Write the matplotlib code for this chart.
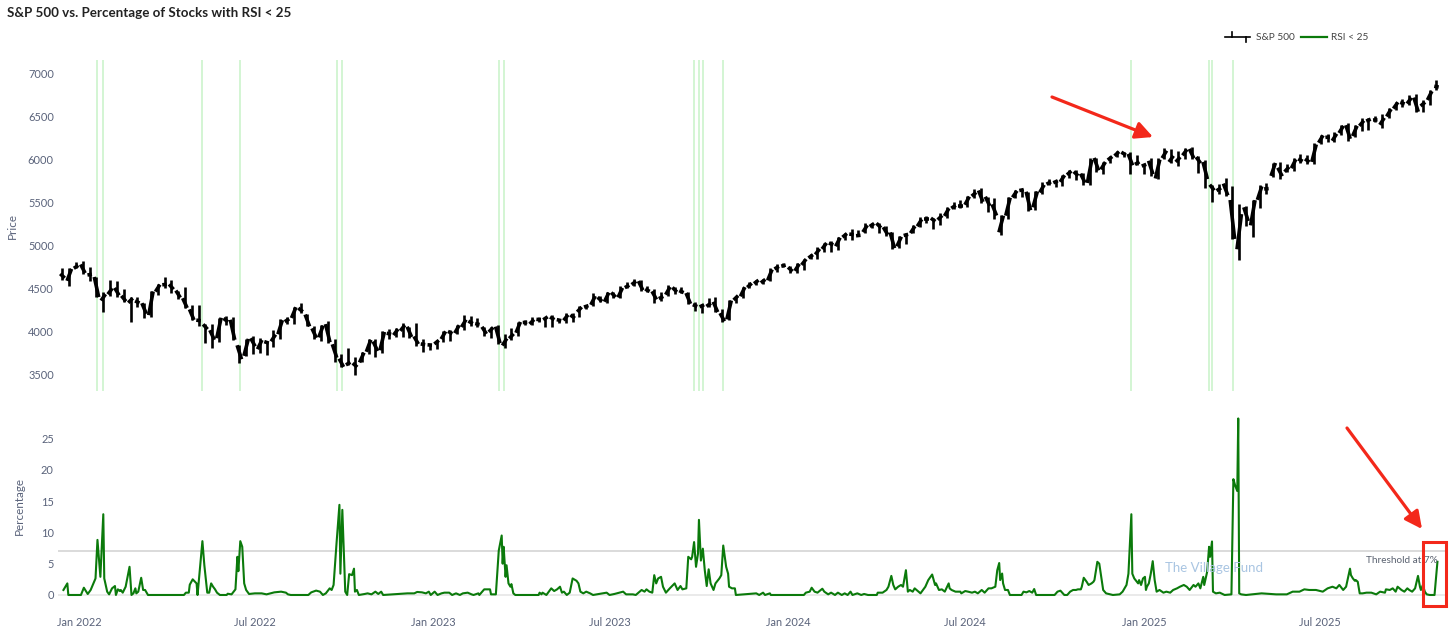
import matplotlib
matplotlib.use("Agg")
import matplotlib.pyplot as plt
import matplotlib.dates as mdates
from matplotlib.collections import LineCollection
from matplotlib.lines import Line2D
from matplotlib.patches import FancyArrowPatch, Rectangle
import pandas as pd

W, H = 1456, 631
plt.rcParams['font.family'] = ['Lato', 'DejaVu Sans']

# ---------------- data ----------------
first_week = '2021-12-13'   # Monday of first weekly bar
wk_open = [4669, 4587, 4733,
    4778, 4655, 4632, 4357, 4431, 4505, 4413, 4332, 4354, 4327, 4188, 4462, 4541, 4547, 4474, 4385, 4255, 4130,
    4081, 4013, 3920, 4151, 4134, 3838, 3715, 3920, 3792, 3880, 3883, 3966, 4112, 4155, 4270, 4195, 4034, 3930,
    4084, 3849, 3682, 3610, 3630, 3638, 3762, 3882, 3780, 3978, 3956, 4006, 4053, 3940, 3853, 3843,
    3853, 3910, 3999, 3979, 4050, 4119, 4090, 4052, 3992, 4055, 3835, 3917, 3983, 4102, 4085, 4140, 4134, 4166,
    4136, 4127, 4190, 4226, 4282, 4308, 4396, 4344, 4450, 4394, 4508, 4543, 4584, 4491, 4465, 4380, 4426, 4510,
    4473, 4445, 4310, 4284, 4290, 4343, 4211, 4139, 4364, 4407, 4511, 4555, 4564, 4593, 4725, 4758,
    4745, 4703, 4772, 4853, 4893, 4957, 5026, 4989, 5094, 5131, 5111, 5154, 5219, 5257, 5211, 5150, 4988, 5114,
    5142, 5221, 5305, 5316, 5297, 5341, 5431, 5460, 5471, 5572, 5638, 5565, 5476, 5151, 5345, 5557, 5637, 5623,
    5442, 5615, 5711, 5727, 5737, 5820, 5857, 5833, 5725, 6016, 5883, 5992, 6040, 6083, 6063, 5941, 5921,
    5983, 5777, 6014, 5969, 5969, 6046, 6121, 6026, 5969, 5705, 5635, 5718, 5527, 4954, 5442, 5232, 5529, 5655,
    5807, 5902, 5855, 5897, 6005, 6005, 5970, 6193, 6255, 6215, 6306, 6397, 6271, 6389, 6445, 6457, 6401, 6498,
    6590, 6662, 6648, 6718, 6620, 6690, 6850]
wk_high = [4732, 4740, 4808,
    4819, 4749, 4632, 4453, 4595, 4590, 4490, 4397, 4402, 4327, 4465, 4546, 4637, 4594, 4474, 4513, 4308, 4308,
    4081, 4090, 4158, 4178, 4168, 3838, 3913, 3946, 3918, 3880, 4013, 4141, 4168, 4280, 4325, 4203, 4062, 4076,
    4119, 3907, 3733, 3807, 3698, 3762, 3906, 3912, 4001, 4028, 4034, 4101, 4053, 4101, 3906, 3850,
    3896, 4003, 4015, 4078, 4195, 4176, 4156, 4052, 4048, 4079, 3965, 4039, 4110, 4133, 4164, 4169, 4170, 4187,
    4143, 4213, 4213, 4291, 4299, 4448, 4407, 4458, 4456, 4527, 4578, 4607, 4595, 4528, 4490, 4458, 4541, 4514,
    4511, 4460, 4338, 4317, 4385, 4394, 4256, 4367, 4415, 4521, 4568, 4595, 4610, 4739, 4778, 4793,
    4755, 4798, 4842, 4904, 4975, 5030, 5048, 5098, 5140, 5190, 5179, 5262, 5265, 5264, 5222, 5151, 5114, 5139,
    5240, 5325, 5342, 5316, 5376, 5447, 5505, 5523, 5570, 5655, 5670, 5567, 5551, 5358, 5564, 5643, 5651, 5623,
    5636, 5733, 5767, 5765, 5822, 5878, 5879, 5842, 6012, 6018, 5972, 6044, 6099, 6086, 6085, 6049, 5949,
    6021, 6014, 6128, 6120, 6101, 6128, 6147, 6043, 5987, 5705, 5715, 5786, 5695, 5481, 5459, 5528, 5700, 5720,
    5959, 5968, 5944, 6017, 6059, 6050, 6187, 6284, 6291, 6315, 6395, 6427, 6395, 6481, 6478, 6508, 6532, 6600,
    6671, 6699, 6750, 6764, 6690, 6807, 6920]
wk_low = [4600, 4531, 4733,
    4662, 4582, 4395, 4222, 4405, 4401, 4342, 4114, 4279, 4157, 4161, 4424, 4507, 4450, 4381, 4268, 4128, 4062,
    3859, 3811, 3875, 4074, 3901, 3637, 3715, 3741, 3743, 3722, 3818, 3910, 4080, 4087, 4218, 4057, 3906, 3887,
    3861, 3648, 3584, 3610, 3491, 3639, 3741, 3699, 3749, 3906, 3938, 3937, 3919, 3828, 3765, 3784,
    3794, 3877, 3885, 3966, 4018, 4060, 4047, 3943, 3928, 3847, 3808, 3902, 3951, 4069, 4072, 4114, 4049, 4049,
    4098, 4099, 4104, 4166, 4261, 4300, 4337, 4328, 4385, 4390, 4504, 4528, 4474, 4455, 4335, 4356, 4415, 4431,
    4449, 4316, 4238, 4216, 4284, 4223, 4104, 4127, 4330, 4393, 4507, 4537, 4546, 4584, 4695, 4751,
    4682, 4682, 4714, 4845, 4845, 4918, 4920, 4947, 5057, 5057, 5104, 5141, 5203, 5147, 5107, 4953, 4970, 5011,
    5142, 5211, 5257, 5191, 5234, 5320, 5419, 5433, 5448, 5548, 5497, 5390, 5306, 5120, 5306, 5553, 5560, 5402,
    5406, 5602, 5698, 5675, 5690, 5784, 5762, 5703, 5696, 5853, 5830, 5963, 6030, 6025, 5832, 5933, 5829,
    5809, 5773, 6005, 5962, 5923, 6003, 6009, 5837, 5666, 5505, 5597, 5572, 5069, 4835, 5221, 5101, 5433, 5601,
    5795, 5768, 5853, 5862, 5953, 5948, 5943, 6173, 6201, 6201, 6281, 6212, 6265, 6335, 6343, 6430, 6360, 6483,
    6577, 6603, 6628, 6551, 6550, 6630, 6810]
wk_close = [4620, 4726, 4766,
    4677, 4663, 4398, 4432, 4500, 4419, 4349, 4385, 4329, 4204, 4463, 4543, 4546, 4488, 4392, 4272, 4132, 4123,
    4024, 3901, 4158, 4109, 3901, 3675, 3912, 3825, 3899, 3863, 3962, 4130, 4145, 4280, 4228, 4057, 3924, 4067,
    3873, 3693, 3586, 3640, 3583, 3752, 3901, 3771, 3993, 3965, 4026, 4072, 3934, 3852, 3845, 3840,
    3895, 3999, 3973, 4071, 4136, 4090, 4079, 3970, 4046, 3862, 3917, 3971, 4109, 4105, 4137, 4133, 4169, 4136,
    4124, 4192, 4151, 4282, 4299, 4410, 4348, 4450, 4399, 4505, 4536, 4582, 4478, 4464, 4370, 4406, 4516, 4457,
    4450, 4320, 4288, 4309, 4327, 4224, 4117, 4358, 4415, 4514, 4559, 4595, 4604, 4719, 4755, 4770,
    4697, 4784, 4840, 4891, 4959, 5027, 5006, 5089, 5137, 5124, 5117, 5234, 5254, 5204, 5123, 4967, 5100, 5128,
    5223, 5303, 5305, 5278, 5347, 5431, 5465, 5460, 5567, 5615, 5505, 5459, 5346, 5344, 5554, 5634, 5648, 5408,
    5626, 5703, 5738, 5751, 5815, 5864, 5808, 5729, 5995, 5871, 5969, 6032, 6090, 6051, 5930, 5971, 5942,
    5827, 5997, 6101, 6041, 6026, 6115, 6013, 5955, 5770, 5639, 5668, 5581, 5074, 5363, 5283, 5525, 5686, 5660,
    5958, 5803, 5912, 6000, 5977, 5968, 6173, 6279, 6260, 6297, 6389, 6238, 6389, 6450, 6467, 6460, 6482, 6584,
    6664, 6644, 6716, 6553, 6664, 6792, 6840]

rsi_dates = [
    '2021-12-16', '2021-12-20', '2021-12-21', '2022-01-03', '2022-01-06', '2022-01-07', '2022-01-10', '2022-01-13',
    '2022-01-18', '2022-01-20', '2022-01-23', '2022-01-26', '2022-01-27', '2022-01-30', '2022-02-01', '2022-02-04',
    '2022-02-07', '2022-02-08', '2022-02-10', '2022-02-12', '2022-02-13', '2022-02-15', '2022-02-18', '2022-02-22',
    '2022-02-24', '2022-02-26', '2022-02-28', '2022-03-01', '2022-03-03', '2022-03-06', '2022-03-08', '2022-03-10',
    '2022-03-13', '2022-04-19', '2022-04-21', '2022-04-24', '2022-04-25', '2022-04-28', '2022-05-02', '2022-05-03',
    '2022-05-08', '2022-05-10', '2022-05-13', '2022-05-15', '2022-05-17', '2022-05-19', '2022-05-21', '2022-05-23',
    '2022-05-26', '2022-06-02', '2022-06-03', '2022-06-07', '2022-06-11', '2022-06-13', '2022-06-14', '2022-06-16',
    '2022-06-18', '2022-06-20', '2022-06-22', '2022-06-25', '2022-07-01', '2022-07-08', '2022-07-13', '2022-07-21',
    '2022-07-28', '2022-08-02', '2022-08-04', '2022-08-07', '2022-08-25', '2022-08-28', '2022-09-02', '2022-09-06',
    '2022-09-09', '2022-09-12', '2022-09-16', '2022-09-18', '2022-09-20', '2022-09-23', '2022-09-26', '2022-09-27',
    '2022-09-29', '2022-10-02', '2022-10-04', '2022-10-06', '2022-10-09', '2022-10-11', '2022-10-12', '2022-10-14',
    '2022-10-16', '2022-10-22', '2022-10-25', '2022-10-29', '2022-11-02', '2022-11-05', '2022-11-08', '2022-11-10',
    '2022-12-05', '2022-12-12', '2022-12-15', '2022-12-20', '2022-12-24', '2022-12-27', '2022-12-29', '2023-01-02',
    '2023-01-05', '2023-01-09', '2023-01-12', '2023-01-17', '2023-01-20', '2023-01-24', '2023-01-28', '2023-01-31',
    '2023-02-05', '2023-02-09', '2023-02-11', '2023-02-16', '2023-02-17', '2023-02-22', '2023-02-28', '2023-03-01',
    '2023-03-06', '2023-03-09', '2023-03-12', '2023-03-13', '2023-03-14', '2023-03-16', '2023-03-17', '2023-03-19',
    '2023-03-21', '2023-03-22', '2023-03-24', '2023-03-26', '2023-04-19', '2023-04-20', '2023-04-22', '2023-04-23',
    '2023-04-27', '2023-05-02', '2023-05-05', '2023-05-08', '2023-05-11', '2023-05-13', '2023-05-15', '2023-05-18',
    '2023-05-21', '2023-05-24', '2023-05-28', '2023-05-30', '2023-06-01', '2023-06-04', '2023-06-07', '2023-06-11',
    '2023-06-14', '2023-06-28', '2023-07-01', '2023-07-06', '2023-07-11', '2023-07-15', '2023-07-18', '2023-07-25',
    '2023-07-28', '2023-08-03', '2023-08-06', '2023-08-08', '2023-08-11', '2023-08-14', '2023-08-16', '2023-08-18',
    '2023-08-20', '2023-08-23', '2023-08-25', '2023-08-28', '2023-09-01', '2023-09-06', '2023-09-09', '2023-09-12',
    '2023-09-14', '2023-09-18', '2023-09-20', '2023-09-23', '2023-09-24', '2023-09-26', '2023-09-28', '2023-09-30',
    '2023-10-01', '2023-10-03', '2023-10-05', '2023-10-07', '2023-10-09', '2023-10-11', '2023-10-13', '2023-10-16',
    '2023-10-18', '2023-10-22', '2023-10-24', '2023-10-26', '2023-10-29', '2023-10-31', '2023-11-01', '2023-11-04',
    '2023-11-07', '2023-11-08', '2023-11-29', '2023-12-02', '2023-12-06', '2023-12-08', '2023-12-13', '2023-12-14',
    '2024-01-17', '2024-01-19', '2024-01-23', '2024-01-25', '2024-01-28', '2024-01-31', '2024-02-05', '2024-02-07',
    '2024-02-11', '2024-02-14', '2024-02-18', '2024-02-21', '2024-02-25', '2024-02-28', '2024-03-02', '2024-03-05',
    '2024-03-07', '2024-03-12', '2024-03-16', '2024-03-19', '2024-03-23', '2024-04-01', '2024-04-02', '2024-04-07',
    '2024-04-11', '2024-04-13', '2024-04-16', '2024-04-18', '2024-04-20', '2024-04-23', '2024-04-26', '2024-04-28',
    '2024-05-01', '2024-05-03', '2024-05-05', '2024-05-08', '2024-05-10', '2024-05-14', '2024-05-16', '2024-05-21',
    '2024-05-24', '2024-05-28', '2024-05-31', '2024-06-01', '2024-06-04', '2024-06-07', '2024-06-10', '2024-06-14',
    '2024-06-15', '2024-06-17', '2024-06-21', '2024-06-26', '2024-06-27', '2024-07-01', '2024-07-04', '2024-07-08',
    '2024-07-11', '2024-07-14', '2024-07-18', '2024-07-21', '2024-07-25', '2024-07-28', '2024-08-01', '2024-08-03',
    '2024-08-05', '2024-08-06', '2024-08-08', '2024-08-09', '2024-08-11', '2024-08-14', '2024-08-16', '2024-08-28',
    '2024-08-30', '2024-09-02', '2024-09-05', '2024-09-08', '2024-09-10', '2024-09-12', '2024-10-01', '2024-10-04',
    '2024-10-07', '2024-10-11', '2024-10-14', '2024-10-17', '2024-10-20', '2024-10-23', '2024-10-25', '2024-10-28',
    '2024-10-29', '2024-10-31', '2024-11-03', '2024-11-05', '2024-11-08', '2024-11-10', '2024-11-11', '2024-11-14',
    '2024-11-16', '2024-11-18', '2024-11-20', '2024-11-23', '2024-11-30', '2024-12-07', '2024-12-10', '2024-12-14',
    '2024-12-16', '2024-12-19', '2024-12-20', '2024-12-22', '2024-12-26', '2024-12-27', '2024-12-29', '2024-12-31',
    '2025-01-02', '2025-01-03', '2025-01-04', '2025-01-06', '2025-01-08', '2025-01-10', '2025-01-12', '2025-01-14',
    '2025-01-17', '2025-01-21', '2025-01-24', '2025-01-28', '2025-01-31', '2025-02-04', '2025-02-07', '2025-02-11',
    '2025-02-14', '2025-02-17', '2025-02-21', '2025-02-23', '2025-02-26', '2025-02-28', '2025-03-03', '2025-03-04',
    '2025-03-07', '2025-03-09', '2025-03-10', '2025-03-12', '2025-03-13', '2025-03-16', '2025-03-20', '2025-03-25',
    '2025-04-01', '2025-04-03', '2025-04-05', '2025-04-07', '2025-04-08', '2025-04-09', '2025-04-11', '2025-04-16',
    '2025-05-02', '2025-05-17', '2025-05-28', '2025-06-03', '2025-06-10', '2025-06-15', '2025-06-20', '2025-06-27',
    '2025-07-04', '2025-07-09', '2025-07-14', '2025-07-18', '2025-07-21', '2025-07-25', '2025-07-28', '2025-08-01',
    '2025-08-02', '2025-08-04', '2025-08-06', '2025-08-07', '2025-08-09', '2025-08-11', '2025-08-14', '2025-08-18',
    '2025-08-23', '2025-08-28', '2025-09-01', '2025-09-06', '2025-09-07', '2025-09-11', '2025-09-14', '2025-09-17',
    '2025-09-19', '2025-09-23', '2025-09-26', '2025-09-29', '2025-10-01', '2025-10-04', '2025-10-07', '2025-10-10',
    '2025-10-12', '2025-10-13', '2025-10-15', '2025-10-17', '2025-10-19', '2025-10-22', '2025-10-27', '2025-10-30']
rsi_values = [
    0.8, 1.85, 0, 0, 1.16, 0.9, 0.16, 0.8,
    2.64, 8.8, 2.9, 12.9, 2.64, 0.53, 0.1, 1.06,
    1.43, 0, 0.9, 0.63, 0.8, 0.37, 1.32, 4.5,
    0, 0.26, 1.06, 0.26, 0.53, 2.75, 0.8, 0.8,
    0, 0, 0.37, 0.37, 1.64, 2.5, 1.85, 0,
    8.6, 4.75, 0.37, 0.37, 1.85, 1.32, 0.9, 0.37,
    0, 0, 0.2, 0.1, 0.9, 6.1, 3.8, 8.6,
    7.7, 1.85, 0.8, 0.16, 0.26, 0.26, 0.1, 0.42,
    0.53, 0.37, 0.1, 0, 0, 0.42, 0.7, 0.53,
    0, 0.26, 1.06, 0.8, 1.6, 8.2, 14.4, 3.4,
    13.6, 0.53, 0, 3.33, 3.17, 4.2, 0.53, 0.8,
    0, 0.16, 0.26, 0.1, 0.53, 0.16, 0.53, 0,
    0.26, 0.26, 0.48, 0.42, 0.26, 0.53, 0, 0.53,
    0, 0.26, 0.37, 0.37, 0, 0.26, 0, 0.26,
    0.37, 0.1, 0, 0.26, 0, 0.9, 0.9, 0.1,
    0.1, 7.1, 9.5, 5.0, 7.7, 2.9, 4.75, 1.85,
    1.32, 1.74, 0.26, 0, 0, 0.37, 0.1, 0.37,
    0, 1.06, 0.63, 0.9, 1.32, 0.37, 0.53, 0,
    0.37, 2.64, 2.27, 1.85, 0.53, 0.26, 0.53, 0.26,
    0, 0.37, 0, 0.16, 0.37, 0.53, 0.1, 0.1,
    0, 0.8, 0.53, 0.9, 0.53, 0.37, 3.17, 1.85,
    2.64, 2.9, 1.32, 0.37, 1.06, 1.85, 0.8, 1.43,
    0.9, 1.06, 6.1, 5.7, 6.1, 8.45, 4.5, 6.6,
    12.0, 5.5, 7.4, 3.96, 1.43, 4.1, 1.85, 0.8,
    1.85, 2.64, 3.17, 7.9, 4.5, 3.4, 1.32, 1.06,
    1.06, 0, 0.26, 0, 0.37, 0, 0.26, 0,
    0, 0.37, 0.53, 1.16, 0.53, 0.37, 1.0, 0.53,
    0.1, 0.37, 0, 0.37, 0, 0.26, 0, 0.53,
    0, 0.26, 0, 0.16, 0, 0, 0.37, 0.37,
    0.8, 1.32, 3.05, 1.6, 0.9, 1.32, 1.6, 1.32,
    3.96, 0.53, 0.8, 0.53, 1.06, 0.53, 0.26, 1.32,
    2.38, 3.27, 1.6, 1.85, 0.8, 0.9, 0.53, 1.85,
    1.06, 0.8, 0.53, 0.53, 0.26, 0.63, 0.53, 0.37,
    0.53, 0.26, 0.8, 0.37, 1.06, 1.06, 1.32, 3.96,
    5.1, 2.38, 3.43, 1.85, 0.8, 0.8, 0, 0,
    0.53, 0.42, 0.63, 0.37, 0.95, 0, 0, 0.53,
    0.69, 0, 0, 0.53, 0.8, 0.8, 0.9, 0.9,
    1.32, 2.75, 2.11, 1.6, 1.85, 2.11, 2.38, 5.3,
    5.0, 2.9, 0.8, 0.26, 0, 0.1, 0.53, 1.6,
    3.4, 12.9, 3.4, 2.64, 1.85, 2.38, 1.6, 2.64,
    2.9, 0.8, 1.32, 1.85, 3.4, 5.4, 2.38, 0.53,
    0.8, 0.37, 0.53, 0.37, 0.8, 1.06, 1.32, 1.6,
    1.32, 0.8, 1.6, 1.32, 1.85, 1.06, 2.9, 1.6,
    3.7, 7.7, 6.1, 8.55, 0.53, 0.26, 0.37, 0,
    0.1, 18.5, 17.4, 16.6, 28.2, 0.26, 0.1, 0,
    0.26, 0.1, 0.1, 0.53, 0.53, 0.9, 0.8, 0.8,
    0.53, 1.06, 1.32, 1.06, 1.6, 0.8, 1.32, 4.2,
    3.17, 2.64, 2.27, 2.38, 2.11, 0.26, 0.26, 0.37,
    0.37, 0.1, 0.53, 0.37, 0.9, 0.8, 1.06, 0.53,
    1.32, 0.8, 0.53, 1.06, 0.8, 0.53, 1.06, 3.05,
    1.32, 0.8, 1.6, 0.53, 0.1, 0, 0, 5.3]

threshold = 7
price_ticks = [3500, 4000, 4500, 5000, 5500, 6000, 6500, 7000]
pct_ticks = [0, 5, 10, 15, 20, 25]
title = 'S&P 500 vs. Percentage of Stocks with RSI < 25'

# ---------------- figure ----------------
fig = plt.figure(figsize=(W / 100, H / 100), dpi=100)
fig.patch.set_facecolor('white')


def fx(px):
    return px / W


def fy(py):
    return 1 - py / H


ax1 = fig.add_axes([fx(58), fy(391), (1446 - 58) / W, (391 - 60) / H])
ax2 = fig.add_axes([fx(58), fy(606), (1446 - 58) / W, (606 - 410) / H])

px_per_day = 0.9717
x0 = mdates.date2num(pd.Timestamp('2022-01-01')) - 21 / px_per_day
x1 = x0 + 1388 / px_per_day

tick_col = '#59627a'
for ax in (ax1, ax2):
    ax.set_xlim(x0, x1)
    for s in ax.spines.values():
        s.set_visible(False)
    ax.tick_params(length=0, labelsize=7.9, labelcolor=tick_col, pad=3)
    ax.set_facecolor('white')

# --- top: weekly OHLC ---
week_start = pd.date_range(first_week, periods=len(wk_close), freq='7D')
tw = mdates.date2num(week_start)
body = [[(t - 0.3, o), (t + 4.3, c)] for t, o, c in zip(tw, wk_open, wk_close)]
rng = [[(t + 2.0, lo), (t + 2.0, hi)] for t, lo, hi in zip(tw, wk_low, wk_high)]
ax1.add_collection(LineCollection(rng, colors='black', linewidths=1.9, zorder=3))
ax1.add_collection(LineCollection(body, colors='black', linewidths=2.6, zorder=3,
                                  capstyle='butt'))

rsi_t = mdates.date2num(pd.to_datetime(rsi_dates))
# signal days: crossing above threshold
prev = None
for t, v in zip(rsi_t, rsi_values):
    if v > threshold and (prev is None or prev <= threshold):
        ax1.axvline(t, color='#d0f5d0', lw=1.3, zorder=1)
    prev = v

ax1.set_ylim(3306, 7155)
ax1.set_yticks(price_ticks)
ax1.set_yticklabels([str(v) for v in price_ticks])
ax1.set_xticks([])

# --- bottom: percentage ---
ax2.axhline(0, color='#e8e8e8', lw=1.3, zorder=1)
ax2.axhline(threshold, color='#dadada', lw=1.4, zorder=1)
ax2.plot(rsi_t, rsi_values, color='#0b7a0b', lw=1.5, zorder=3)
ax2.set_ylim(-1.76, 29.55)
ax2.set_yticks(pct_ticks)
ax2.set_yticklabels([str(v) for v in pct_ticks])
ax2.xaxis.set_major_locator(mdates.MonthLocator(bymonth=[1, 7]))
ax2.xaxis.set_major_formatter(mdates.DateFormatter('%b %Y'))
ax2.tick_params(axis='x', pad=8)
ax2.annotate('Threshold at 7%', xy=(rsi_t[-1], threshold), xytext=(0, -3.5),
             textcoords='offset points', ha='right', va='top',
             fontsize=7.2, color='#5a6270', zorder=4)

# --- texts ---
fig.text(fx(7), fy(13), title, fontsize=9.6, fontweight='bold', color='#222222',
         ha='left', va='center')
fig.text(fx(12), fy(226), 'Price', rotation=90, fontsize=8.4, color=tick_col,
         ha='center', va='center')
fig.text(fx(19.5), fy(506), 'Percentage', rotation=90, fontsize=8.4, color=tick_col,
         ha='center', va='center')
fig.text(fx(1214), fy(568), 'The Village Fund', fontsize=9.5, color='#a9c5e2',
         ha='center', va='center', zorder=2)

# --- legend ---
leg_y = 37.3
fig.add_artist(Line2D([fx(1225), fx(1250)], [fy(leg_y), fy(leg_y)], color='black', lw=1.2))
fig.add_artist(Line2D([fx(1232), fx(1232)], [fy(leg_y - 5.5), fy(leg_y)], color='black', lw=1.2))
fig.add_artist(Line2D([fx(1246), fx(1246)], [fy(leg_y), fy(leg_y + 4.5)], color='black', lw=1.2))
fig.text(fx(1256), fy(leg_y), 'S&P 500', fontsize=7.3, color='#444444', ha='left', va='center')
fig.add_artist(Line2D([fx(1301), fx(1327)], [fy(leg_y), fy(leg_y)], color='#0b7a0b', lw=1.6))
fig.text(fx(1331), fy(leg_y), 'RSI < 25', fontsize=7.3, color='#444444', ha='left', va='center')

# --- red highlight annotations ---
red = '#f3281a'
for (ax_, ay_), (bx_, by_) in [((1052, 97), (1153, 137)), ((1347, 428), (1422, 529))]:
    fig.add_artist(FancyArrowPatch((fx(ax_), fy(ay_)), (fx(bx_), fy(by_)),
                                   transform=fig.transFigure, arrowstyle='-|>',
                                   mutation_scale=26, lw=2.3, color=red,
                                   shrinkA=0, shrinkB=0))
fig.add_artist(Rectangle((fx(1422.5), fy(606.2)), (1446.2 - 1422.5) / W, (606.2 - 541.5) / H,
                         transform=fig.transFigure, fill=False, ec=red, lw=2.2))

fig.savefig('out.png', dpi=100, facecolor='white')
